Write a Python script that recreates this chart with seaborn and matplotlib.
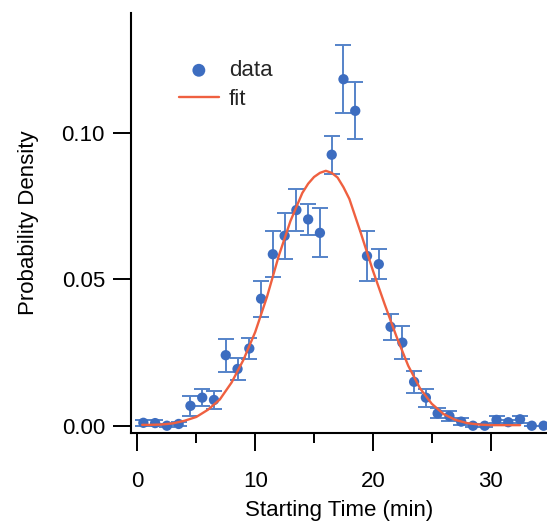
import numpy as np
import pandas as pd
import matplotlib
matplotlib.use("Agg")
import matplotlib.pyplot as plt
import seaborn as sns

# binned starting times (min), measured density and error bars
time_bins = [0.5, 1.5, 2.5, 3.5, 4.5, 5.5, 6.5, 7.5, 8.5, 9.5,
             10.5, 11.5, 12.5, 13.5, 14.5, 15.5, 16.5, 17.5, 18.5, 19.5,
             20.5, 21.5, 22.5, 23.5, 24.5, 25.5, 26.5, 27.5, 28.5, 29.5,
             30.5, 31.5, 32.5, 33.5, 34.5]
density = [0.0010, 0.0009, 0.0000, 0.0006, 0.0068, 0.0096, 0.0088, 0.0241, 0.0194, 0.0264,
           0.0434, 0.0586, 0.0649, 0.0737, 0.0705, 0.0659, 0.0926, 0.1184, 0.1076, 0.0580,
           0.0552, 0.0338, 0.0284, 0.0150, 0.0096, 0.0042, 0.0033, 0.0014, 0.0000, 0.0000,
           0.0020, 0.0012, 0.0022, 0.0000, 0.0000]
density_err = [0.0010, 0.0010, 0.0005, 0.0008, 0.0035, 0.0030, 0.0030, 0.0057, 0.0039, 0.0035,
               0.0061, 0.0079, 0.0078, 0.0072, 0.0052, 0.0084, 0.0065, 0.0116, 0.0097, 0.0085,
               0.0051, 0.0045, 0.0057, 0.0038, 0.0031, 0.0017, 0.0017, 0.0012, 0.0005, 0.0005,
               0.0012, 0.0008, 0.0012, 0.0000, 0.0000]

# fitted curve
fit_time = [0.4, 1, 2, 3, 4, 5, 6, 7, 8, 9, 10, 11, 12, 13, 14, 14.5, 15, 15.5, 16,
            16.5, 17, 17.5, 18, 19, 20, 21, 22, 23, 24, 25, 26, 27, 28, 29, 30, 31, 32, 32.5]
fit_density = [0.0003, 0.0003, 0.0004, 0.0008, 0.0017, 0.0030, 0.0055, 0.0090, 0.0148, 0.0225,
               0.0320, 0.0440, 0.0580, 0.0700, 0.0795, 0.0827, 0.0850, 0.0864, 0.0871,
               0.0864, 0.0848, 0.0815, 0.0775, 0.0655, 0.0530, 0.0415, 0.0305, 0.0205, 0.0128,
               0.0075, 0.0040, 0.0020, 0.0009, 0.0004, 0.0002, 0.0002, 0.0002, 0.0002]

data_df = pd.DataFrame({"t": time_bins, "p": density, "err": density_err})
fit_df = pd.DataFrame({"t": fit_time, "p": fit_density})

sns.set_theme(style="ticks")
plt.rcParams['font.family'] = ['Liberation Sans', 'DejaVu Sans']

fig = plt.figure(figsize=(5.47, 5.23), dpi=100)
ax = fig.add_axes([0.2395, 0.172, 0.7605, 0.803])

blue = '#3d6dc0'
ax.errorbar(data_df["t"], data_df["p"], yerr=data_df["err"], fmt='none',
            ecolor='#5583c9', elinewidth=1.4, capsize=5.5, capthick=1.4, zorder=2)
sns.scatterplot(data=data_df, x="t", y="p", color=blue, s=55, edgecolor='none',
                ax=ax, zorder=3, label='data')
sns.lineplot(data=fit_df, x="t", y="p", color='#ef6040', linewidth=1.7,
             ax=ax, zorder=4, label='fit')

ax.set_xlim(-0.55, 34.79)
ax.set_ylim(-0.0025, 0.141)
ax.set_xticks([0, 10, 20, 30])
ax.set_xticks([5, 15, 25], minor=True)
ax.set_yticks([0.0, 0.05, 0.10])
ax.set_yticklabels(['0.00', '0.05', '0.10'])

for side in ['top', 'right']:
    ax.spines[side].set_visible(False)
for side in ['left', 'bottom']:
    ax.spines[side].set_linewidth(1.5)
    ax.spines[side].set_color('black')

ax.tick_params(axis='both', which='major', direction='out', length=13, width=1.4,
               labelsize=16, color='black', labelcolor='black')
ax.tick_params(axis='x', which='minor', direction='out', length=7, width=1.4, color='black')
ax.tick_params(axis='x', which='major', pad=14)
ax.tick_params(axis='y', which='major', pad=5.8)

ax.set_xlabel('Starting Time (min)', fontsize=16, labelpad=6, color='black')
ax.set_ylabel('Probability Density', fontsize=16, labelpad=16, color='black')

handles, labels = ax.get_legend_handles_labels()
ax.legend(handles, labels, loc='upper left', bbox_to_anchor=(0.115, 0.888),
          frameon=False, fontsize=16, borderaxespad=0, borderpad=0,
          handlelength=1.8, handletextpad=0.45, labelspacing=0.35, markerscale=1.25)

plt.savefig("out.png", dpi=100)
